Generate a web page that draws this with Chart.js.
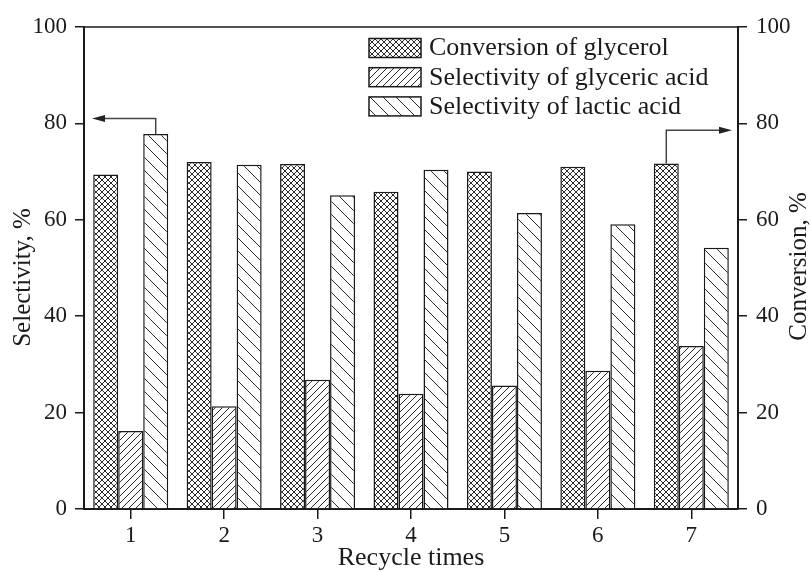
<!DOCTYPE html>
<html>
<head>
<meta charset="utf-8">
<script src="https://cdn.jsdelivr.net/npm/chart.js@4.4.1/dist/chart.umd.min.js"></script>
<style>
  html, body { margin: 0; padding: 0; background: #fff; }
  canvas { display: block; }
</style>
</head>
<body>
<canvas id="chart" width="810" height="572"></canvas>
<script>
// Recycle runs and measured values (%)
const recycleTimes = ['1', '2', '3', '4', '5', '6', '7']
const conversionGlycerol = [69.4, 72.0, 71.6, 65.8, 70.0, 71.0, 71.7]
const selectivityGlyceric = [16.2, 21.3, 26.8, 23.9, 25.6, 28.7, 33.8]
const selectivityLactic = [77.8, 71.4, 65.1, 70.4, 61.4, 59.1, 54.2]
const axisTicks = [0, 20, 40, 60, 80, 100]
const seriesNames = ['Conversion of glycerol', 'Selectivity of glyceric acid', 'Selectivity of lactic acid']

// levels (in %) where the axis-pointer arrows run horizontally
const leftArrowLevel = 81
const rightArrowLevel = 78.6

const SERIF = "'Liberation Serif', 'Times New Roman', serif"
const INK = '#1a1a1a'

/**
 * Build a repeating hatch fill from a small tile
 */
const makePattern = (size, draw) => {
  const tile = document.createElement('canvas')
  tile.width = size
  tile.height = size
  const g = tile.getContext('2d')
  g.fillStyle = '#fff'
  g.fillRect(0, 0, size, size)
  g.strokeStyle = '#2a2a2a'
  g.lineWidth = 1
  draw(g, size)
  return g.createPattern(tile, 'repeat')
}

const forwardLines = (g, s) => {
  g.beginPath()
  g.moveTo(-1, s + 1); g.lineTo(s + 1, -1)
  g.moveTo(-1, 1); g.lineTo(1, -1)
  g.moveTo(s - 1, s + 1); g.lineTo(s + 1, s - 1)
  g.stroke()
}
const backLines = (g, s) => {
  g.beginPath()
  g.moveTo(-1, -1); g.lineTo(s + 1, s + 1)
  g.moveTo(s - 1, -1); g.lineTo(s + 1, 1)
  g.moveTo(-1, s - 1); g.lineTo(1, s + 1)
  g.stroke()
}

const crossFill = makePattern(6, (g, s) => { forwardLines(g, s); backLines(g, s) })
const glycericFill = makePattern(7, forwardLines)
const lacticFill = makePattern(13, backLines)
const fills = [crossFill, glycericFill, lacticFill]

const fixedSize = (prop, px) => (scale) => { scale[prop] = px }
const useTicks = (scale) => { scale.ticks = axisTicks.map(v => ({ value: v })) }

const drawArrow = (ctx, pts) => {
  const n = pts.length
  const [tx, ty] = pts[n - 1]
  const [px, py] = pts[n - 2]
  const ang = Math.atan2(ty - py, tx - px)
  const headLen = 13
  ctx.save()
  ctx.strokeStyle = '#444'
  ctx.fillStyle = '#222'
  ctx.lineWidth = 1.5
  ctx.beginPath()
  ctx.moveTo(pts[0][0], pts[0][1])
  for (let i = 1; i < n - 1; i++) ctx.lineTo(pts[i][0], pts[i][1])
  ctx.lineTo(tx - headLen * Math.cos(ang), ty - headLen * Math.sin(ang))
  ctx.stroke()
  ctx.beginPath()
  ctx.moveTo(tx, ty)
  ctx.lineTo(tx - headLen * Math.cos(ang) - 3.5 * Math.sin(ang), ty - headLen * Math.sin(ang) + 3.5 * Math.cos(ang))
  ctx.lineTo(tx - headLen * Math.cos(ang) + 3.5 * Math.sin(ang), ty - headLen * Math.sin(ang) - 3.5 * Math.cos(ang))
  ctx.closePath()
  ctx.fill()
  ctx.restore()
}

// frame top line, legend, axis pointers and vertical titles
const decorations = {
  id: 'decorations',
  afterDatasetsDraw(chart) {
    const { ctx, chartArea: area, scales } = chart

    ctx.save()
    ctx.strokeStyle = INK
    ctx.lineWidth = 1.5
    ctx.beginPath()
    ctx.moveTo(area.left, area.top)
    ctx.lineTo(area.right, area.top)
    ctx.stroke()
    ctx.restore()

    // lactic acid run 1 points to the selectivity axis
    const lac = chart.getDatasetMeta(2).data[0]
    const yL = scales.ySel.getPixelForValue(leftArrowLevel)
    drawArrow(ctx, [[lac.x, lac.y], [lac.x, yL], [area.left + 8, yL]])

    // glycerol conversion run 7 points to the conversion axis
    const conv = chart.getDatasetMeta(0).data[6]
    const yR = scales.yConv.getPixelForValue(rightArrowLevel)
    drawArrow(ctx, [[conv.x, conv.y], [conv.x, yR], [area.right - 6, yR]])

    // legend
    const boxX = area.left + 285
    const boxW = 52
    const boxH = 19
    ctx.save()
    ctx.font = `26px ${SERIF}`
    ctx.textBaseline = 'middle'
    ctx.textAlign = 'left'
    seriesNames.forEach((name, i) => {
      const top = area.top + 11.5 + i * 29.2
      ctx.fillStyle = fills[i]
      ctx.fillRect(boxX, top, boxW, boxH)
      ctx.strokeStyle = INK
      ctx.lineWidth = 1.5
      ctx.strokeRect(boxX, top, boxW, boxH)
      ctx.fillStyle = INK
      ctx.fillText(name, boxX + 60, top + boxH / 2 + 0.5)
    })
    ctx.restore()

    // vertical axis titles, both reading upward
    ctx.save()
    ctx.font = `25px ${SERIF}`
    ctx.fillStyle = INK
    ctx.textAlign = 'center'
    ctx.textBaseline = 'middle'
    ctx.translate(23, 277.5)
    ctx.rotate(-Math.PI / 2)
    ctx.fillText('Selectivity, %', 0, 0)
    ctx.restore()

    ctx.save()
    ctx.font = `25px ${SERIF}`
    ctx.fillStyle = INK
    ctx.textAlign = 'center'
    ctx.textBaseline = 'middle'
    ctx.translate(799.5, 266.5)
    ctx.rotate(-Math.PI / 2)
    ctx.fillText('Conversion, %', 0, 0)
    ctx.restore()
  }
}

const barStyle = {
  borderColor: INK,
  borderWidth: 1.5,
  categoryPercentage: 0.803,
  barPercentage: 1.0
}

const yAxis = (position, width, pad) => ({
  type: 'linear',
  position,
  min: 0,
  max: 100,
  afterBuildTicks: useTicks,
  afterFit: fixedSize('width', width),
  border: { display: true, color: INK, width: 2 },
  grid: { drawOnChartArea: false, drawTicks: true, tickLength: 9, color: INK, lineWidth: 1.5 },
  ticks: { color: INK, padding: pad, font: { family: SERIF, size: 23 } }
})

new Chart(document.getElementById('chart'), {
  type: 'bar',
  data: {
    labels: recycleTimes,
    datasets: [
      { label: seriesNames[0], data: conversionGlycerol, yAxisID: 'yConv', backgroundColor: crossFill, ...barStyle },
      { label: seriesNames[1], data: selectivityGlyceric, yAxisID: 'ySel', backgroundColor: glycericFill, ...barStyle },
      { label: seriesNames[2], data: selectivityLactic, yAxisID: 'ySel', backgroundColor: lacticFill, ...barStyle }
    ]
  },
  options: {
    responsive: false,
    animation: false,
    devicePixelRatio: 1,
    layout: { padding: { top: 27, left: 0, right: 0, bottom: 0 } },
    plugins: {
      legend: { display: false },
      tooltip: { enabled: false }
    },
    scales: {
      x: {
        afterFit: fixedSize('height', 63),
        border: { display: true, color: INK, width: 2 },
        grid: { offset: false, drawOnChartArea: false, drawTicks: true, tickLength: 10, color: INK, lineWidth: 1.5 },
        ticks: { color: INK, padding: 3, font: { family: SERIF, size: 23 } },
        title: {
          display: true,
          text: 'Recycle times',
          color: INK,
          padding: { top: 0, bottom: -2 },
          font: { family: SERIF, size: 26 }
        }
      },
      ySel: yAxis('left', 84, 8),
      yConv: yAxis('right', 72, 9)
    }
  },
  plugins: [decorations]
})
</script>
</body>
</html>
